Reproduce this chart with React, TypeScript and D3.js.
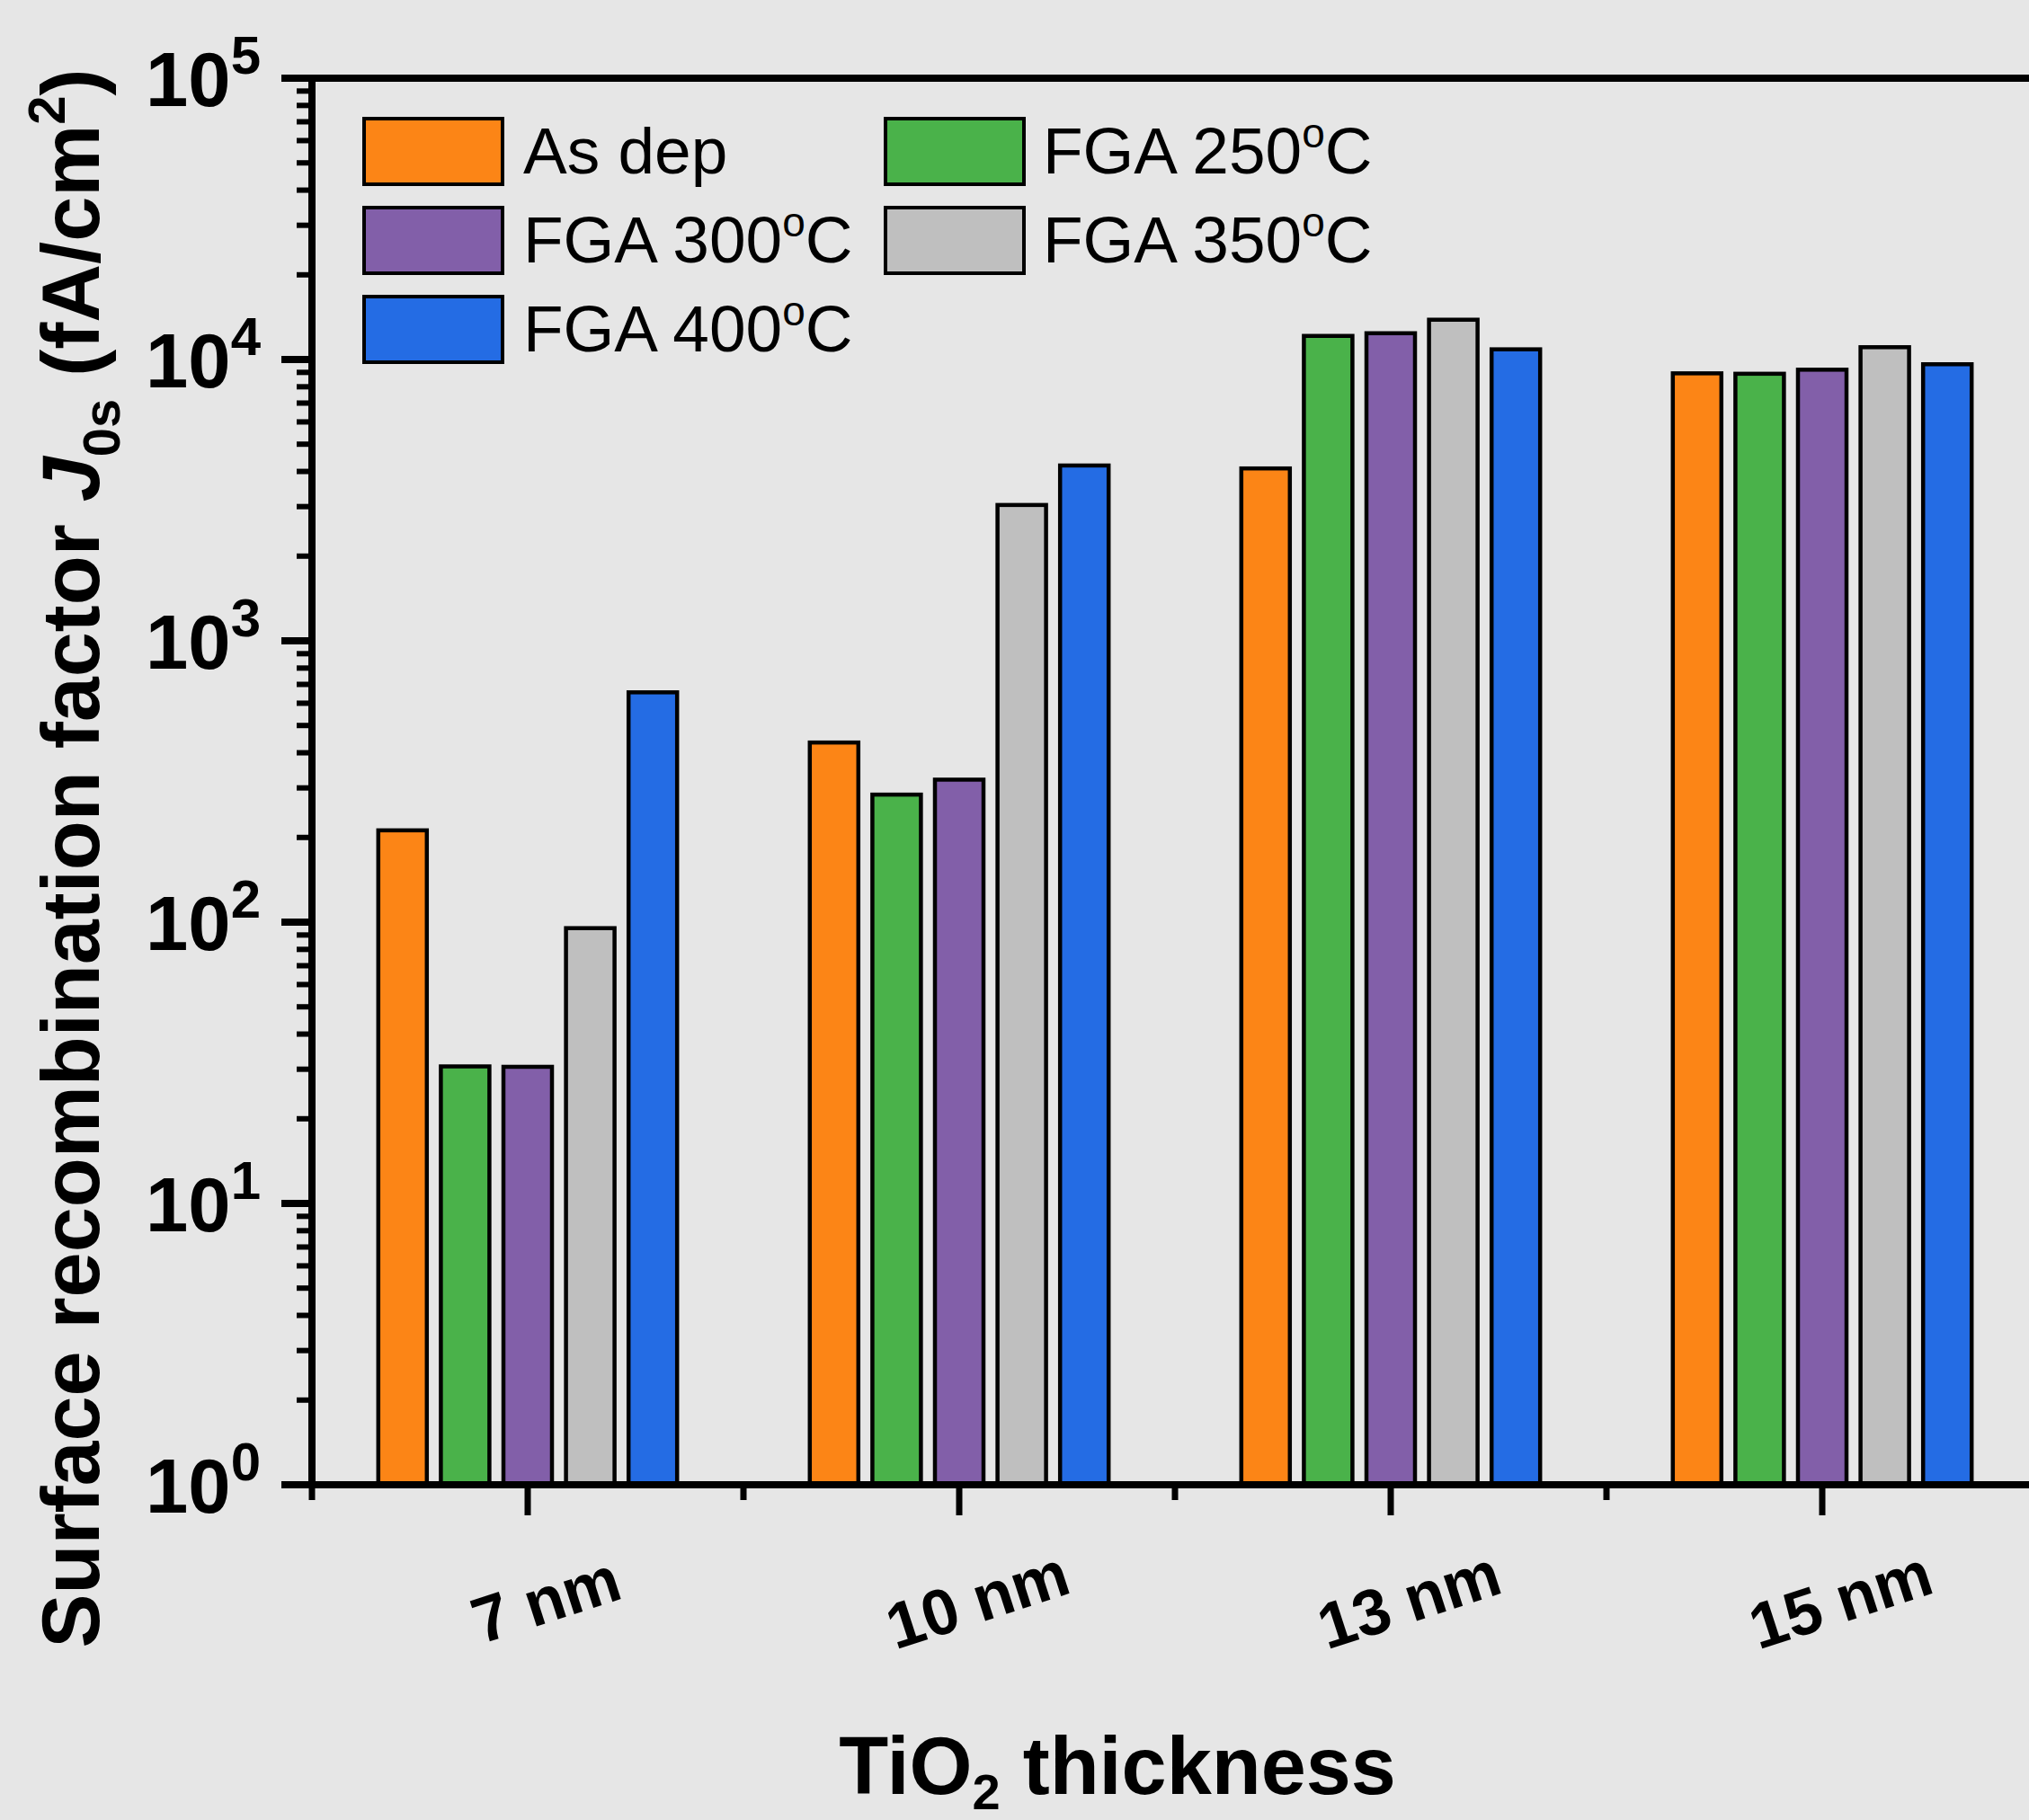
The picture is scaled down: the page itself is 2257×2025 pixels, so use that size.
import React from "react";
import * as d3 from "d3";

const categories = ["7 nm", "10 nm", "13 nm", "15 nm"];
const seriesLabels = ["As dep", "FGA 250", "FGA 300", "FGA 350", "FGA 400"];
const seriesColors = ["#FC8516", "#4AB24A", "#825FA9", "#BFBFBF", "#246CE4"];
const asDep = [212, 435, 4100, 8930];
const fga250 = [30.7, 284, 12130, 8900];
const fga300 = [30.6, 321, 12400, 9200];
const fga350 = [95.2, 3040, 13850, 11060];
const fga400 = [656, 4200, 10870, 9620];
const seriesValues = [asDep, fga250, fga300, fga350, fga400];
const yTickExponents = [0, 1, 2, 3, 4, 5];

const W = 2257;
const H = 2025;
const BG = "#E6E6E6";
const FONT = "'Liberation Sans', Arial, Helvetica, sans-serif";

export default function App() {
  React.useEffect(() => {
    document.body.style.margin = "0";
    document.body.style.background = BG;
  }, []);

  const left = 347;
  const top = 87;
  const bottom = 1652;
  const band = 480;
  const x = d3.scaleBand<string>().domain(categories).range([left, left + band * categories.length]);
  const y = d3.scaleLog().domain([1, 1e5]).range([bottom, top]);
  const step = 69.6;
  const sub = d3
    .scaleBand<string>()
    .domain(seriesLabels)
    .range([-step * 2.5, step * 2.5]);
  const barW = 54;

  const allTicks = y.ticks();
  const minorTicks = allTicks.filter((t) => Math.abs(Math.log10(t) - Math.round(Math.log10(t))) > 1e-6);

  const legendCols = [405, 985];
  const legendTextX = [582, 1160];
  const legendRows = [132, 231, 330];

  return (
    <svg
      width={W}
      height={H}
      style={{ position: "absolute", left: 0, top: 0, display: "block" }}
      fontFamily={FONT}
    >
      <rect x={0} y={0} width={W} height={H} fill={BG} />

      {/* bars */}
      {categories.map((c, ci) =>
        seriesLabels.map((s, si) => {
          const cx = (x(c) as number) + x.bandwidth() / 2 + (sub(s) as number) + sub.bandwidth() / 2;
          const yv = y(seriesValues[si][ci]);
          return (
            <rect
              key={c + s}
              x={cx - barW / 2}
              y={yv}
              width={barW}
              height={bottom - yv}
              fill={seriesColors[si]}
              stroke="#000"
              strokeWidth={4.5}
            />
          );
        })
      )}

      {/* axes */}
      <line x1={313} x2={W} y1={top} y2={top} stroke="#000" strokeWidth={8} />
      <line x1={313} x2={W} y1={bottom} y2={bottom} stroke="#000" strokeWidth={8} />
      <line x1={left} x2={left} y1={top - 4} y2={bottom + 4} stroke="#000" strokeWidth={8} />

      {/* y major ticks */}
      {yTickExponents.map((e) => (
        <line key={"ym" + e} x1={313} x2={left} y1={y(Math.pow(10, e))} y2={y(Math.pow(10, e))} stroke="#000" strokeWidth={8} />
      ))}
      {/* y minor ticks */}
      {minorTicks.map((t, i) => (
        <line key={"yn" + i} x1={330} x2={left} y1={y(t)} y2={y(t)} stroke="#000" strokeWidth={6} />
      ))}

      {/* y tick labels */}
      {yTickExponents.map((e) => (
        <text
          key={"yl" + e}
          x={290}
          y={y(Math.pow(10, e)) + 31}
          textAnchor="end"
          fontWeight="bold"
          fontSize={85}
          fill="#000"
        >
          <tspan>10</tspan>
          <tspan fontSize={60} dy={-36}>
            {String(e)}
          </tspan>
        </text>
      ))}

      {/* x ticks */}
      {categories.map((c) => {
        const cx = (x(c) as number) + x.bandwidth() / 2;
        return <line key={"xm" + c} x1={cx} x2={cx} y1={bottom} y2={bottom + 34} stroke="#000" strokeWidth={7} />;
      })}
      {categories.map((c) => {
        const bx = x(c) as number;
        return <line key={"xn" + c} x1={bx} x2={bx} y1={bottom} y2={bottom + 17} stroke="#000" strokeWidth={7} />;
      })}

      {/* x tick labels */}
      {categories.map((c) => {
        const cx = (x(c) as number) + x.bandwidth() / 2 + 20;
        return (
          <text
            key={"xl" + c}
            transform={`translate(${cx},1779) rotate(-18)`}
            textAnchor="middle"
            dy="0.36em"
            fontWeight="bold"
            fontSize={72}
            fill="#000"
          >
            {c}
          </text>
        );
      })}

      {/* x title */}
      <text x={1243} y={1996} textAnchor="middle" fontWeight="bold" fontSize={90} fill="#000">
        <tspan>TiO</tspan>
        <tspan fontSize={56} dy={17}>2</tspan>
        <tspan dy={-17}> thickness</tspan>
      </text>

      {/* y title */}
      <text transform="translate(110,955) rotate(-90)" textAnchor="middle" fontWeight="bold" fontSize={90} fill="#000">
        <tspan>Surface recombination factor </tspan>
        <tspan fontStyle="italic">J</tspan>
        <tspan fontSize={58} dy={23}>0s</tspan>
        <tspan dy={-23}> (fA/cm</tspan>
        <tspan fontSize={58} dy={-38}>2</tspan>
        <tspan dy={38}>)</tspan>
      </text>

      {/* legend */}
      {seriesLabels.map((s, i) => {
        const col = i % 2;
        const row = Math.floor(i / 2);
        const bx = legendCols[col];
        const by = legendRows[row];
        const isAsDep = i === 0;
        return (
          <g key={"lg" + s}>
            <rect x={bx} y={by} width={154} height={73} fill={seriesColors[i]} stroke="#000" strokeWidth={4} />
            <text x={legendTextX[col]} y={by + 61} fontSize={73} fill="#000">
              {isAsDep ? (
                <tspan>{s}</tspan>
              ) : (
                <>
                  <tspan>{s}</tspan>
                  <tspan fontSize={46} dy={-29}>o</tspan>
                  <tspan dy={29}>C</tspan>
                </>
              )}
            </text>
          </g>
        );
      })}
    </svg>
  );
}
